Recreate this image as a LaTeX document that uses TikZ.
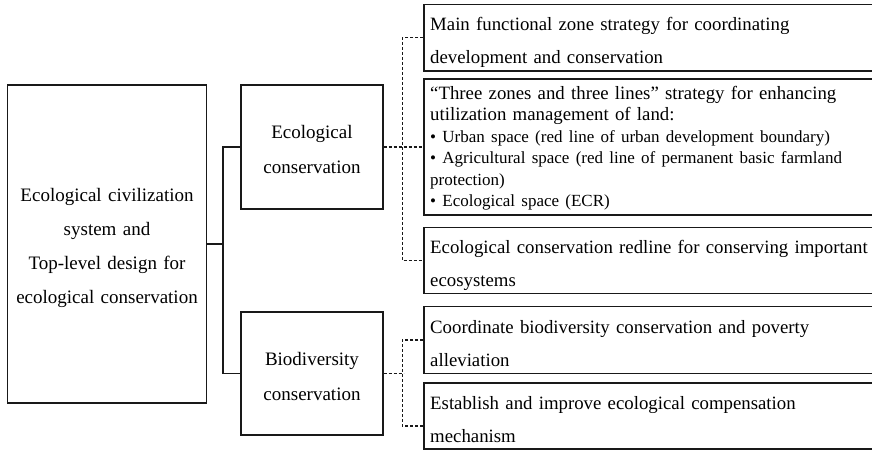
\documentclass[tikz,border=0pt]{standalone}
\usepackage{fontspec}
\setmainfont{Liberation Serif}
\usetikzlibrary{calc}
\begin{document}
\begin{tikzpicture}[x=1pt,y=-1pt,
  box/.style={draw=black!90, line width=1.3pt, inner sep=0pt},
  rbox/.style={box, minimum width=452pt, minimum height=66.5pt},
  ctxt/.style={inner sep=0pt, anchor=base, align=center},
  rtxt/.style={inner sep=0pt, anchor=base west, text width=480pt, align=left, font=\fontsize{18.8}{33}\selectfont},
  conn/.style={line width=1.3pt, draw=black!90},
  dconn/.style={line width=1.1pt, draw=black!90, dash pattern=on 3pt off 2pt}]
\useasboundingbox (0,0) rectangle (872,450);
\clip (0,0) rectangle (872,450);
% boxes
\node[box, minimum width=199pt, minimum height=318pt] (root) at (107,244) {};
\node[box, minimum width=142pt, minimum height=124pt] (eco) at (312,147) {};
\node[box, minimum width=142pt, minimum height=123pt] (bio) at (312,373.5) {};
\node[rbox] (b1) at (650,37.75) {};
\node[rbox, minimum height=136pt] (b2) at (650,147) {};
\node[rbox] (b3) at (650,260.5) {};
\node[rbox] (b4) at (650,340) {};
\node[rbox, minimum height=66pt] (b5) at (650,416) {};
% texts
\node[ctxt, text width=195pt, font=\fontsize{19}{34}\selectfont] (t0) at (107,201)
  {Ecological civilization\\ system and\\ Top-level design for\\ ecological conservation};
\node[ctxt, text width=135pt, font=\fontsize{19}{35}\selectfont] (te) at (312,138)
  {Ecological\\ conservation};
\node[ctxt, text width=135pt, font=\fontsize{19}{35}\selectfont] (tb) at (312,365)
  {Biodiversity\\ conservation};
\node[rtxt] (t1) at (430,30.5)
  {Main functional zone strategy for coordinating\\ development and conservation};
\node[rtxt] (t2) at (430,99)
  {{\fontsize{18.8}{21.5}\selectfont “Three zones and three lines” strategy for enhancing\\ utilization management of land:\par}
   {\fontsize{17}{21.5}\selectfont • Urban space (red line of urban development boundary)\\ • Agricultural space (red line of permanent basic farmland\\ protection)\\ • Ecological space (ECR)\par}};
\node[rtxt] (t3) at (430,253)
  {Ecological conservation redline for conserving important\\ ecosystems};
\node[rtxt] (t4) at (430,333)
  {Coordinate biodiversity conservation and poverty\\ alleviation};
\node[rtxt] (t5) at (430,409)
  {Establish and improve ecological compensation\\ mechanism};
% connectors
\draw[conn] (root.east) -- ++(17,0);
\draw[conn] (eco.west) -- ++(-17.5,0) |- (bio.west);
\draw[dconn] (eco.east) -- (b2.west);
\draw[dconn] (b1.west) -- ++(-21,0) |- (b3.west);
\draw[dconn] (bio.east) -- ++(20,0);
\draw[dconn] (b4.west) -- ++(-21,0) |- ([yshift=-10pt]b5.west);
\end{tikzpicture}
\end{document}
